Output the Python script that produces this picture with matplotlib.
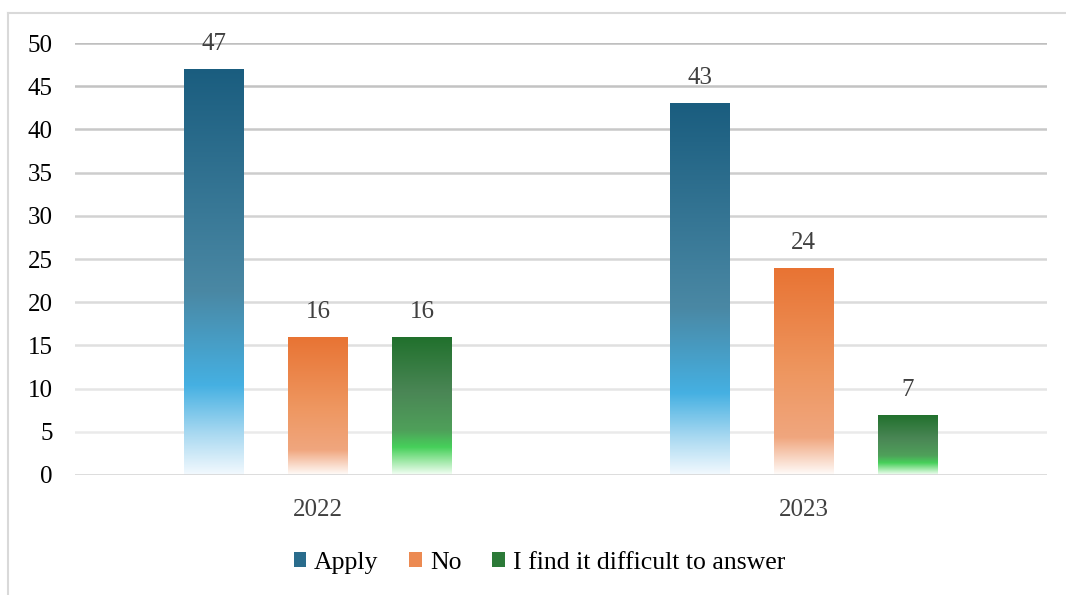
import numpy as np
import matplotlib
matplotlib.use('Agg')
import matplotlib.pyplot as plt
from matplotlib.colors import LinearSegmentedColormap
from matplotlib.patches import Patch
from matplotlib.lines import Line2D

years = ['2022', '2023']
series = ['Apply', 'No', 'I find it difficult to answer']
values = {
    'Apply': [47, 43],
    'No': [16, 24],
    'I find it difficult to answer': [16, 7],
}

# gradient stops, bottom (0) to top (1), like the Excel fill
gradients = {
    'Apply': [(0.0, '#f2f9fe'), (0.1, '#a9d9f1'), (0.22, '#45b0e2'),
              (0.45, '#4a88a4'), (1.0, '#1a5d7f')],
    'No': [(0.0, '#fffcfa'), (0.18, '#f0a67e'), (0.5, '#ee965f'),
           (1.0, '#e87333')],
    'I find it difficult to answer': [(0.0, '#f4fff5'), (0.1, '#9ee8a6'),
                                      (0.2, '#46d05a'), (0.32, '#4fa05a'),
                                      (0.6, '#4a8655'), (1.0, '#20702c')],
}
legend_colors = ['#2a6c8c', '#ec8a52', '#2c7a38']

plt.rcParams['font.family'] = ['Liberation Serif', 'DejaVu Serif']
text_color = '#404040'

fig = plt.figure(figsize=(10.66, 5.95), dpi=100)
ax = fig.add_axes([0.0704, 0.2017, 0.9116, 0.726])

x = np.arange(len(years))
width = 0.123
step = 0.214
grad = np.linspace(0, 1, 256).reshape(-1, 1)

for i, name in enumerate(series):
    cmap = LinearSegmentedColormap.from_list(name, gradients[name])
    bars = ax.bar(x + (i - 1) * step, values[name], width, color='none',
                  edgecolor='none', zorder=3)
    for b, v in zip(bars, values[name]):
        x0, y0 = b.get_x(), b.get_y()
        img = ax.imshow(grad, cmap=cmap, origin='lower', aspect='auto',
                        extent=[x0, x0 + b.get_width(), y0, y0 + b.get_height()],
                        zorder=3)
        img.set_clip_path(b)
        ax.annotate(str(v), (b.get_x() + b.get_width() / 2, v),
                    xytext=(0, 18), textcoords='offset points',
                    ha='center', va='center', fontsize=18, color=text_color)

ax.set_xlim(-0.5, 1.5)
ax.set_ylim(0, 50)
ax.set_yticks(range(0, 51, 5))
ax.set_xticks(x)
ax.set_xticklabels(years)

# gridlines get lighter toward the bottom
grid_cols = np.linspace(0xea, 0xbf, 10)
for k, yv in enumerate(range(5, 51, 5)):
    c = int(grid_cols[k])
    ax.axhline(yv, color='#%02x%02x%02x' % (c, c, c), lw=1.8, zorder=1)
ax.axhline(0, color='#d9d9d9', lw=2, zorder=4)

for s in ax.spines.values():
    s.set_visible(False)
ax.tick_params(length=0, labelsize=18, colors=text_color)
ax.tick_params(axis='y', pad=16)
ax.tick_params(axis='x', pad=17)
for lab in ax.get_yticklabels():
    lab.set_color('#000000')

handles = [Patch(facecolor=c, edgecolor='none', label=n)
           for n, c in zip(series, legend_colors)]
fig.legend(handles=handles, loc='center', bbox_to_anchor=(0.506, 0.054), ncol=3,
           frameon=False, fontsize=18.5, handlelength=0.5, handleheight=0.5,
           handletextpad=0.3, columnspacing=1.2, labelcolor='#000000')

# outer chart border (cropped at right and bottom)
fig.add_artist(Line2D([0.0075, 1.0], [1 - 13 / 595] * 2, color='#d9d9d9', lw=1.5))
fig.add_artist(Line2D([0.0075, 0.0075], [0.0, 1 - 13 / 595], color='#d9d9d9', lw=1.5))

fig.savefig('out.png', dpi=100)
